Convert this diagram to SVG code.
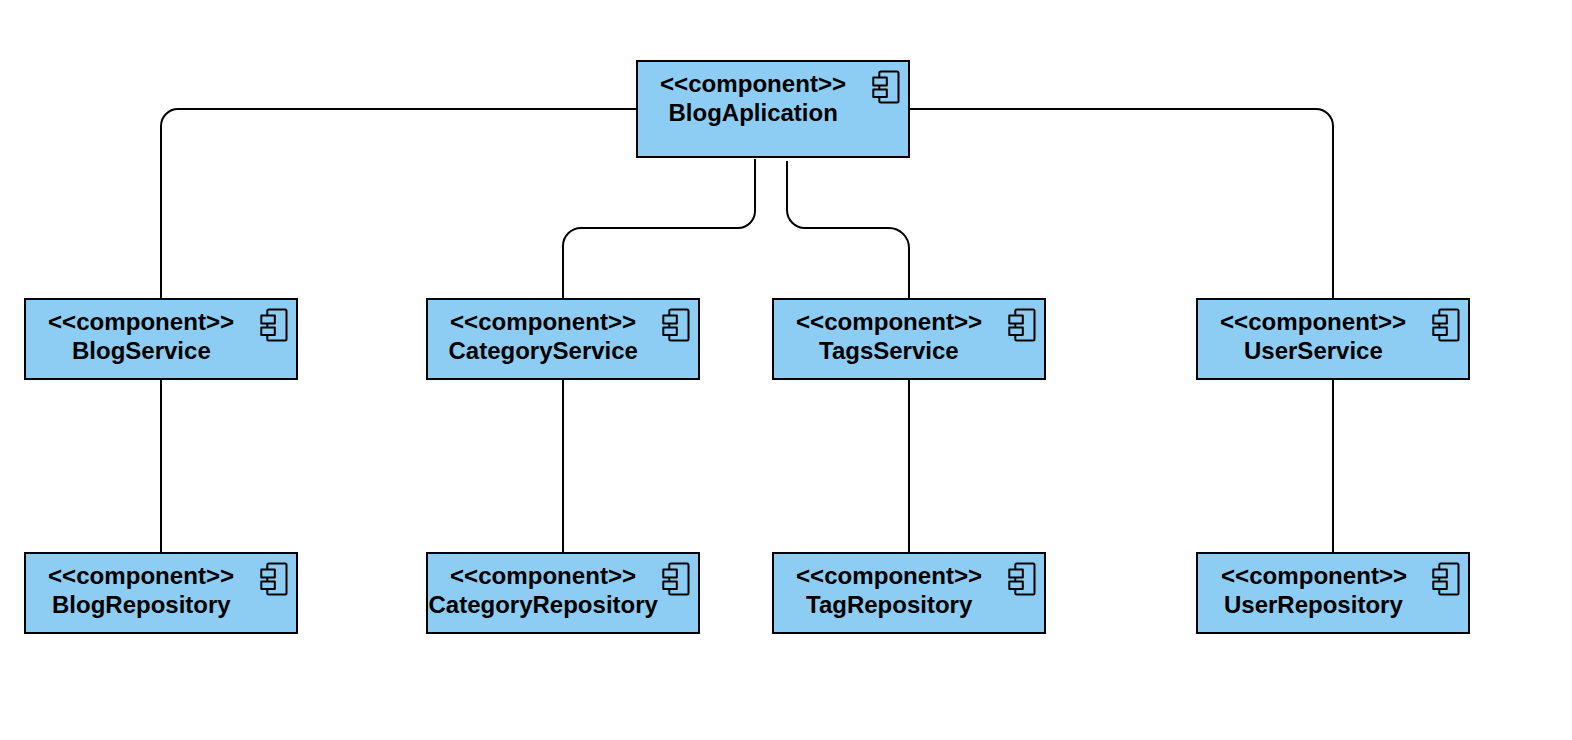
<svg xmlns="http://www.w3.org/2000/svg" width="1572" height="740" viewBox="0 0 1572 740">
<style>
.box{fill:#8ecdf3;stroke:#000;stroke-width:2}
.ico{fill:none;stroke:#000;stroke-width:2;stroke-linejoin:round}
.ln{fill:none;stroke:#000;stroke-width:2}
text{font-family:"Liberation Sans",Arial,sans-serif;font-weight:bold;font-size:24.1px;fill:#000}
text.n{font-size:24px}
</style>
<defs>
<g id="icon">
<path class="ico" d="M242.300 16.500V12Q242.300 10.500 243.800 10.500H260Q261.500 10.500 261.500 12V40Q261.500 41.500 260 41.500H243.800Q242.300 41.500 242.300 40V36M242.300 24.500V28.500"/>
<rect class="ico" x="236.300" y="16.500" width="13.500" height="8"/>
<rect class="ico" x="236.300" y="28.500" width="13.500" height="7.500"/>
</g>
</defs>
<rect width="1572" height="740" fill="#fff"/>
<g id="connectors">
<path class="ln" d="M637 109H178A17 17 0 0 0 161 126V299"/>
<path class="ln" d="M909 109H1316A17 17 0 0 1 1333 126V299"/>
<path class="ln" d="M755 159V211A17 17 0 0 1 738 228H581A18 18 0 0 0 563 246V299"/>
<path class="ln" d="M787 161V210A18 18 0 0 0 805 228H889A20 20 0 0 1 909 248V299"/>
<path class="ln" d="M161 379V553"/>
<path class="ln" d="M563 379V553"/>
<path class="ln" d="M909 379V553"/>
<path class="ln" d="M1333 379V553"/>
</g>
<g id="BlogAplication"><rect class="box" x="637" y="61" width="272" height="96"/><use href="#icon" x="637" y="61"/><text x="660" y="92">&lt;&lt;component&gt;&gt;</text><text class="n" x="668.500" y="120.500">BlogAplication</text></g>
<g id="BlogService"><rect class="box" x="25" y="299" width="272" height="80"/><use href="#icon" x="25" y="299"/><text x="48" y="330">&lt;&lt;component&gt;&gt;</text><text class="n" x="72" y="358.500">BlogService</text></g>
<g id="CategoryService"><rect class="box" x="427" y="299" width="272" height="80"/><use href="#icon" x="427" y="299"/><text x="450" y="330">&lt;&lt;component&gt;&gt;</text><text class="n" x="448.500" y="358.500">CategoryService</text></g>
<g id="TagsService"><rect class="box" x="773" y="299" width="272" height="80"/><use href="#icon" x="773" y="299"/><text x="796" y="330">&lt;&lt;component&gt;&gt;</text><text class="n" x="819" y="358.500">TagsService</text></g>
<g id="UserService"><rect class="box" x="1197" y="299" width="272" height="80"/><use href="#icon" x="1197" y="299"/><text x="1220" y="330">&lt;&lt;component&gt;&gt;</text><text class="n" x="1244" y="358.500">UserService</text></g>
<g id="BlogRepository"><rect class="box" x="25" y="553" width="272" height="80"/><use href="#icon" x="25" y="553"/><text x="48" y="584">&lt;&lt;component&gt;&gt;</text><text class="n" x="52" y="612.500">BlogRepository</text></g>
<g id="CategoryRepository"><rect class="box" x="427" y="553" width="272" height="80"/><use href="#icon" x="427" y="553"/><text x="450" y="584">&lt;&lt;component&gt;&gt;</text><text class="n" x="428.500" y="612.500">CategoryRepository</text></g>
<g id="TagRepository"><rect class="box" x="773" y="553" width="272" height="80"/><use href="#icon" x="773" y="553"/><text x="796" y="584">&lt;&lt;component&gt;&gt;</text><text class="n" x="806" y="612.500">TagRepository</text></g>
<g id="UserRepository"><rect class="box" x="1197" y="553" width="272" height="80"/><use href="#icon" x="1197" y="553"/><text x="1221" y="584">&lt;&lt;component&gt;&gt;</text><text class="n" x="1224" y="612.500">UserRepository</text></g>
</svg>
